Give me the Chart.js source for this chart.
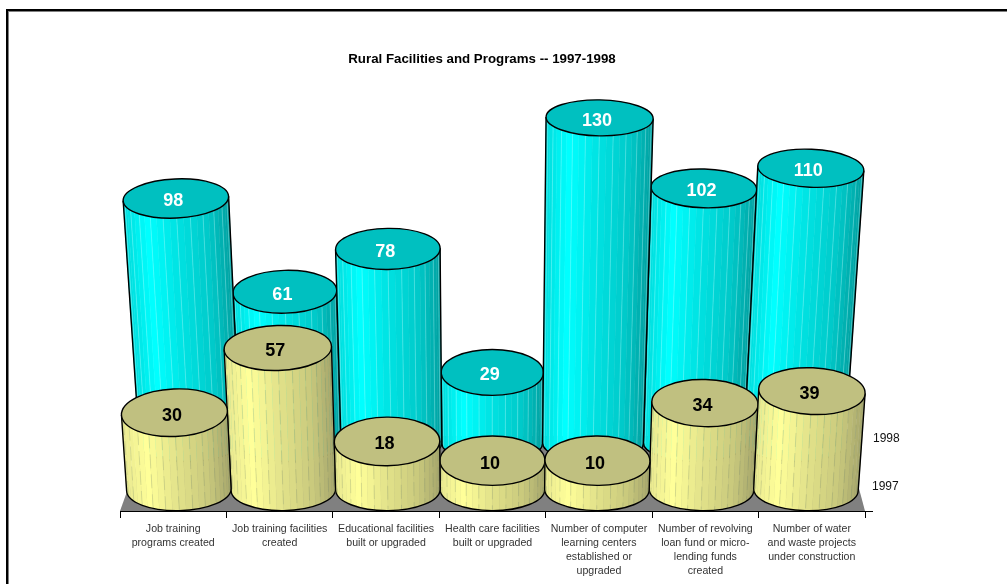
<!DOCTYPE html>
<html>
<head>
<meta charset="utf-8">
<title>Rural Facilities and Programs</title>
<script src="https://cdn.jsdelivr.net/npm/chart.js@4/dist/chart.umd.js"></script>
<style>
    html, body { margin: 0; padding: 0; background: #fff; overflow: hidden; }
    #wrap { position: relative; width: 1007px; height: 584px; }
    #frame {
        position: absolute; left: 6px; top: 9px; right: 0; bottom: 0;
        border-top: 2px solid #000; border-left: 2px solid #000;
        box-shadow: inset 1px 1px 0 #808080;
    }
    canvas { position: absolute; left: 0; top: 0; }
</style>
</head>
<body>
<div id="wrap">
    <div id="frame"></div>
    <canvas id="chart" width="1007" height="584"></canvas>
</div>
<script>
const chartTitle = 'Rural Facilities and Programs -- 1997-1998'
const categories = [
    ['Job training', 'programs created'],
    ['Job training facilities', 'created'],
    ['Educational facilities', 'built or upgraded'],
    ['Health care facilities', 'built or upgraded'],
    ['Number of computer', 'learning centers', 'established or', 'upgraded'],
    ['Number of revolving', 'loan fund or micro-', 'lending funds', 'created'],
    ['Number of water', 'and waste projects', 'under construction']
]
const series1997 = [30, 57, 18, 10, 10, 34, 39]
const series1998 = [98, 61, 78, 29, 130, 102, 110]

// Perspective of the old 3-D chart: everything leans away from this x
const vanishX = 487
const growth = 0.00048

const looks = {
    1998: {
        depth: 0.947, foot: -2, baseRy: 18, label: '#fff', topFill: '#00c0c0', stripe: 'rgba(190,255,255,0.3)', dash: [],
        stops: [[0, [0, 220, 220]], [0.22, [0, 255, 255]], [0.5, [0, 226, 226]], [0.8, [0, 200, 200]], [1, [0, 160, 160]]]
    },
    1997: {
        depth: 0.982, foot: 5, baseRy: 21, label: '#000', topFill: '#c0c080', stripe: 'rgba(110,130,100,0.22)', dash: [14, 6],
        stops: [[0, [232, 232, 144]], [0.22, [255, 255, 153]], [0.5, [226, 226, 138]], [0.8, [200, 200, 124]], [1, [166, 166, 108]]]
    }
}

function mixColor(stops, t) {
    for (let i = 1; i < stops.length; i++) {
        if (t <= stops[i][0]) {
            const a = stops[i - 1]
            const b = stops[i]
            const f = (t - a[0]) / (b[0] - a[0])
            return 'rgb(' + a[1].map((c, k) => Math.round(c + (b[1][k] - c) * f)).join(',') + ')'
        }
    }
    return 'rgb(' + stops[stops.length - 1][1].join(',') + ')'
}

function ringPoint(ring, angle) {
    const px = ring.rx * Math.cos(angle)
    const py = ring.ry * Math.sin(angle)
    return [
        ring.x + px * Math.cos(ring.tilt) - py * Math.sin(ring.tilt),
        ring.y + px * Math.sin(ring.tilt) + py * Math.cos(ring.tilt)
    ]
}

function drawCylinder(ctx, bar, value, look) {
    const baseX = vanishX + (bar.x - vanishX) * look.depth
    const baseRx = bar.width / 2 * look.depth
    const scale = 1 + growth * value
    const topX = vanishX + (baseX - vanishX) * scale
    const tilt = 0.045 * (topX - vanishX) / 320
    const bottom = { x: baseX, y: bar.base + look.foot, rx: baseRx, ry: look.baseRy, tilt: tilt / 2 }
    const top = { x: topX, y: bar.y, rx: baseRx * scale, ry: 15.7 + 0.0195 * bar.y, tilt: tilt }

    // side, as thin strips running from the top ring to the bottom ring
    const strips = 24
    for (let i = 0; i < strips; i++) {
        const a0 = Math.PI - Math.PI * i / strips
        const a1 = Math.PI - Math.PI * (i + 1) / strips
        const p = [ringPoint(top, a0), ringPoint(top, a1), ringPoint(bottom, a1), ringPoint(bottom, a0)]
        ctx.fillStyle = mixColor(look.stops, (1 + Math.cos((a0 + a1) / 2)) / 2)
        ctx.strokeStyle = ctx.fillStyle
        ctx.lineWidth = 0.5
        ctx.beginPath()
        p.forEach((q, k) => (k ? ctx.lineTo(q[0], q[1]) : ctx.moveTo(q[0], q[1])))
        ctx.closePath()
        ctx.fill()
        ctx.stroke()
    }
    ctx.strokeStyle = look.stripe
    ctx.lineWidth = 1
    ctx.setLineDash(look.dash)
    for (let i = 2; i < strips - 1; i += 2) {
        const a = Math.PI - Math.PI * i / strips
        const p = ringPoint(top, a)
        const q = ringPoint(bottom, a)
        ctx.beginPath()
        ctx.moveTo(p[0], p[1])
        ctx.lineTo(q[0], q[1])
        ctx.stroke()
    }
    ctx.setLineDash([])

    // outline of the side
    const tl = ringPoint(top, Math.PI)
    const tr = ringPoint(top, 0)
    ctx.strokeStyle = '#000'
    ctx.lineWidth = 1.4
    ctx.beginPath()
    ctx.moveTo(tl[0], tl[1])
    ctx.lineTo(...ringPoint(bottom, Math.PI))
    ctx.ellipse(bottom.x, bottom.y, bottom.rx, bottom.ry, bottom.tilt, Math.PI, 0, true)
    ctx.lineTo(tr[0], tr[1])
    ctx.stroke()

    // top face
    ctx.fillStyle = look.topFill
    ctx.beginPath()
    ctx.ellipse(top.x, top.y, top.rx, top.ry, top.tilt, 0, Math.PI * 2)
    ctx.fill()
    ctx.stroke()

    ctx.fillStyle = look.label
    ctx.font = 'bold 18px "Liberation Sans", Arial, sans-serif'
    ctx.textAlign = 'center'
    ctx.textBaseline = 'middle'
    ctx.fillText(String(value), top.x - 2.5, top.y + 3)
}

const cylinders = {
    id: 'cylinders',
    afterLayout(chart) {
        // title sits over the middle of the whole picture, not of the plot
        chart.titleBlock.left -= 10.5
        chart.titleBlock.right -= 10.5
    },
    beforeDatasetsDraw(chart) {
        const ctx = chart.ctx
        const { left, right, bottom } = chart.chartArea
        // grey floor
        ctx.save()
        ctx.fillStyle = '#808080'
        ctx.beginPath()
        ctx.moveTo(left, bottom)
        ctx.lineTo(right, bottom)
        ctx.lineTo(right - 20, bottom - 75)
        ctx.lineTo(left + 27, bottom - 75)
        ctx.closePath()
        ctx.fill()
        ctx.strokeStyle = '#000'
        ctx.lineWidth = 1
        ctx.beginPath()
        ctx.moveTo(left, bottom + 0.5)
        ctx.lineTo(right + 8, bottom + 0.5)
        ctx.stroke()
        ctx.restore()
    },
    afterDatasetsDraw(chart) {
        const ctx = chart.ctx
        ctx.save()
        ctx.lineJoin = 'round'
        chart.data.datasets.forEach((dataset, d) => {
            const meta = chart.getDatasetMeta(d)
            const look = looks[dataset.label]
            const order = [1, 3, 5, 0, 2, 4, 6]
            order.forEach((i) => drawCylinder(ctx, meta.data[i], dataset.data[i], look))

            // row name to the right of the floor
            const zero = meta.data[0].base + look.foot
            ctx.fillStyle = '#111'
            ctx.font = '12px "Liberation Sans", Arial, sans-serif'
            ctx.textAlign = 'left'
            ctx.textBaseline = 'middle'
            ctx.fillText(dataset.label, d === 0 ? 873 : 872, zero - 3 - (d === 0 ? 2 : 0))
        })
        ctx.restore()
    }
}

new Chart(document.getElementById('chart'), {
    type: 'bar',
    plugins: [cylinders],
    data: {
        labels: categories,
        datasets: [
            { label: '1998', data: series1998, yAxisID: 'yBack', backgroundColor: 'transparent' },
            { label: '1997', data: series1997, yAxisID: 'yFront', backgroundColor: 'transparent' }
        ]
    },
    options: {
        responsive: false,
        animation: false,
        grouped: false,
        categoryPercentage: 1,
        barPercentage: 1,
        layout: { padding: { left: 120, right: 142, top: 0, bottom: 0 } },
        plugins: {
            legend: { display: false },
            tooltip: { enabled: false },
            title: {
                display: true,
                text: chartTitle,
                color: '#000',
                font: { family: '"Liberation Sans", Arial, sans-serif', size: 13.3, weight: 'bold', lineHeight: 1.2 },
                padding: { top: 51.5, bottom: 0 }
            }
        },
        scales: {
            x: {
                offset: true,
                grid: { drawOnChartArea: false, drawTicks: true, tickLength: 7, color: '#000', offset: true },
                border: { color: '#000' },
                ticks: {
                    color: '#333',
                    font: { family: '"Liberation Sans", Arial, sans-serif', size: 10.6, lineHeight: 1.32 },
                    maxRotation: 0,
                    minRotation: 0,
                    autoSkip: false,
                    padding: 4
                },
                afterFit(scale) { scale.height = 73 }
            },
            yFront: { display: false, min: -11, max: 174 },
            yBack: { display: false, min: -26, max: 150 }
        }
    }
})
</script>
</body>
</html>
